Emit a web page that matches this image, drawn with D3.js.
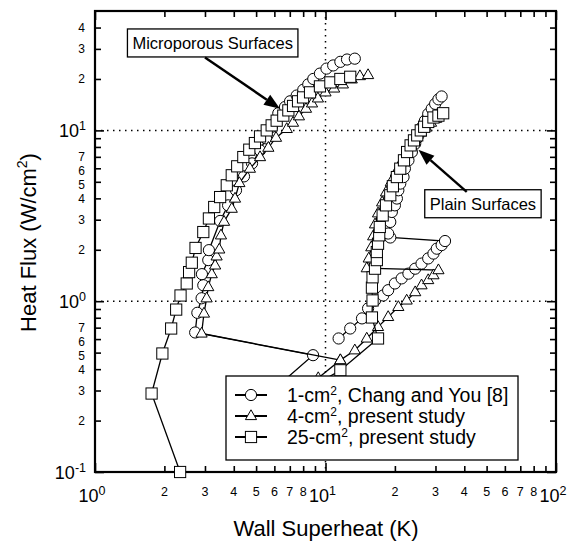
<!DOCTYPE html>
<html>
<head>
<meta charset="utf-8">
<script src="https://cdn.jsdelivr.net/npm/d3@7"></script>
<style>
  body { margin: 0; background: #fff; }
  text { font-family: "Liberation Sans", Arial, sans-serif; fill: #000; }
</style>
</head>
<body>
<div id="chart"></div>
<script>
// [wall superheat K, heat flux W/cm2]
const circleMicro = [[6.35,0.327],[8.83,0.483],[2.72,0.656],[2.78,0.855],[2.90,1.04],[2.95,1.24],[2.91,1.44],
  [3.10,1.74],[3.12,1.99],[3.49,2.95],[3.78,3.64],[4.09,4.46],[4.43,5.38],[4.80,6.41],[5.20,7.64],[5.52,8.98],
  [5.86,10.5],[6.24,12.6],[6.67,13.7],[7.02,14.8],[7.50,16.0],[8.01,17.3],[8.42,18.6],[8.85,20.0],[9.46,21.5],
  [10.1,23.0],[10.8,24.0],[11.6,25.2],[12.4,26.0],[13.4,26.3]];
const circlePlain = [[11.4,0.605],[12.8,0.692],[14.4,0.793],[15.3,0.907],[16.4,1.01],[17.8,1.08],[18.7,1.16],
  [20.0,1.27],[21.4,1.36],[22.9,1.45],[24.5,1.55],[26.1,1.66],[27.9,1.78],[29.4,1.90],[30.4,2.03],[31.9,2.13],
  [33.0,2.25],[19.1,2.36],[18.7,2.49],[19.1,2.91],[19.4,3.33],[20.0,3.64],[20.4,3.99],[20.7,4.46],[21.1,4.88],
  [21.8,5.33],[22.1,5.97],[22.9,6.68],[23.7,7.47],[24.5,8.36],[25.3,9.35],[26.1,10.4],[27.0,11.4],[27.9,12.5],
  [28.9,13.4],[29.9,14.3],[30.9,15.2],[31.9,15.8]];
const triMicro = [[9.3,0.355],[11.6,0.452],[2.90,0.647],[2.97,0.847],[3.05,1.04],[3.10,1.21],[3.21,1.44],
  [3.32,1.62],[3.37,1.83],[3.46,2.01],[3.52,2.43],[3.63,2.92],[3.92,3.48],[4.05,3.99],[4.23,4.92],[4.70,5.97],
  [5.20,6.98],[5.65,7.92],[6.10,9.06],[6.79,10.2],[7.23,11.1],[7.67,12.1],[8.23,13.4],[8.74,14.4],[9.27,15.4],
  [10.0,16.7],[10.9,17.6],[11.9,18.6],[13.0,19.9],[14.1,20.8],[15.3,21.1]];
const triPlain = [[11.6,0.452],[13.4,0.516],[15.1,0.605],[16.9,0.707],[18.7,0.809],[20.7,0.926],[22.5,1.01],
  [24.5,1.13],[26.1,1.24],[27.9,1.33],[29.4,1.42],[30.9,1.52],[15.1,1.56],[15.4,1.78],[15.8,2.07],[16.1,2.40],
  [16.4,2.82],[16.9,3.27],[17.6,3.79],[18.3,4.34],[19.2,4.97],[20.2,5.68],[21.3,6.50],[22.4,7.33],[23.5,8.17],
  [24.7,8.98],[26.0,9.73],[27.3,10.4],[28.7,11.1],[30.2,11.7]];
const squareMicro = [[2.34,0.10],[1.76,0.288],[1.96,0.494],[2.14,0.692],[2.25,0.893],[2.35,1.08],[2.50,1.27],
  [2.56,1.48],[2.63,1.68],[2.73,2.05],[2.95,2.54],[3.12,3.05],[3.29,3.56],[3.49,4.07],[3.73,4.77],[3.92,5.46],
  [4.14,6.16],[4.40,6.98],[4.67,7.71],[4.94,8.43],[5.20,9.22],[5.56,10.0],[5.84,10.7],[6.14,11.4],[6.56,12.2],
  [6.90,13.1],[7.23,13.9],[7.60,14.8],[7.99,15.6],[8.57,16.7],[9.46,18.1],[10.5,19.1],[11.6,20.0],[12.8,20.6]];
const squarePlain = [[9.46,0.336],[11.6,0.394],[16.9,0.605],[15.9,0.803],[16.0,1.01],[15.9,1.20],[16.0,1.38],
  [16.4,1.55],[16.7,1.74],[16.7,1.94],[16.9,2.17],[17.1,2.43],[17.2,2.72],[17.7,3.18],[18.3,3.64],[19.1,4.17],
  [19.6,4.71],[20.4,5.33],[21.1,5.97],[21.9,6.68],[22.6,7.47],[23.4,8.17],[24.2,8.74],[25.0,9.35],[25.9,10.0],
  [26.8,10.5],[27.9,11.2],[29.4,11.9],[30.9,12.2],[32.4,12.6]];

const legendLabels = ["1-cm", "4-cm", "25-cm"];
const legendTails = [", Chang and You [8]", ", present study", ", present study"];

const xMajor = [1, 10, 100];
const xMinor = [2,3,4,5,6,7,8,9,20,30,40,50,60,70,80,90];
const xMinorLabeled = [2,3,4,5,6,7,8,20,30,40,50,60,70,80];
const yMajor = [0.1, 1, 10];
const yMinor = [0.2,0.3,0.4,0.5,0.6,0.7,0.8,0.9,2,3,4,5,6,7,8,9,20,30,40];
const yMinorLabeled = [0.2,0.3,0.4,0.5,0.6,0.7,2,3,4,5,6,7,20,30,40];
const gridX = [10];
const gridY = [1, 10];

const width = 578, height = 544;
const margin = {top: 11, right: 22, bottom: 72, left: 95};

const svg = d3.select("#chart").append("svg")
  .attr("width", width)
  .attr("height", height)
  .attr("viewBox", [0, 0, width, height]);

const x = d3.scaleLog().domain([1, 100]).range([margin.left, width - margin.right]);
const y = d3.scaleLog().domain([0.1, 50]).range([height - margin.bottom, margin.top]);

const x0 = x.range()[0], x1 = x.range()[1];
const y0 = y.range()[0], y1 = y.range()[1];

// dotted grid lines
svg.append("g")
  .attr("stroke", "#000")
  .attr("stroke-width", 1.5)
  .attr("stroke-dasharray", "1.5,4.5")
  .call(g => g.selectAll(".gx").data(gridX).join("line")
    .attr("x1", d => x(d)).attr("x2", d => x(d)).attr("y1", y1).attr("y2", y0))
  .call(g => g.selectAll(".gy").data(gridY).join("line")
    .attr("x1", x0).attr("x2", x1).attr("y1", d => y(d)).attr("y2", d => y(d)));

// ticks (inside) on all four sides
const leadDigit = d => String(Math.round(d / Math.pow(10, Math.floor(Math.log10(d) + 1e-9))));

function ticks(axis, vals, size) {
  return axis.tickValues(vals).tickSize(-size).tickFormat("");
}
const tickGroups = [
  [() => d3.axisBottom(x), `translate(0,${y0})`, true],
  [() => d3.axisTop(x), `translate(0,${y1})`, true],
  [() => d3.axisLeft(y), `translate(${x0},0)`, false],
  [() => d3.axisRight(y), `translate(${x1},0)`, false]
];
tickGroups.forEach(([mk, tr, isX]) => {
  const major = isX ? xMajor : yMajor;
  const minor = isX ? xMinor : yMinor;
  [[minor, 6], [major, 9]].forEach(([vals, len]) => {
    svg.append("g").attr("transform", tr)
      .call(ticks(mk(), vals, len))
      .call(g => g.select(".domain").remove())
      .call(g => g.selectAll("line").attr("stroke-width", 1.6));
  });
});

// frame
svg.append("rect")
  .attr("x", x0).attr("y", y1)
  .attr("width", x1 - x0).attr("height", y0 - y1)
  .attr("fill", "none").attr("stroke", "#000").attr("stroke-width", 2.2);

// x tick labels
svg.append("g").selectAll("text").data(xMinorLabeled).join("text")
  .attr("x", d => x(d)).attr("y", y0 + 24)
  .attr("text-anchor", "middle").attr("font-size", 12.5)
  .text(leadDigit);
svg.append("g").selectAll("text").data(xMajor).join("text")
  .attr("x", d => x(d) - 3).attr("y", y0 + 30)
  .attr("text-anchor", "middle").attr("font-size", 18)
  .call(t => t.append("tspan").text("10"))
  .call(t => t.append("tspan").attr("font-size", 12.5).attr("dy", -7).text(d => Math.round(Math.log10(d))));

// y tick labels (the crowded 6 and 5 sit a little lower, as in the original)
const yNudge = d => (leadDigit(d) === "6" || leadDigit(d) === "5") ? 2.5 : 0;
svg.append("g").selectAll("text").data(yMinorLabeled).join("text")
  .attr("x", x0 - 10).attr("y", d => y(d) + 4.5 + yNudge(d))
  .attr("text-anchor", "end").attr("font-size", 12)
  .text(leadDigit);
svg.append("g").selectAll("text").data(yMajor).join("text")
  .attr("x", x0 - 9).attr("y", d => y(d) + 7)
  .attr("text-anchor", "end").attr("font-size", 18)
  .call(t => t.append("tspan").text("10"))
  .call(t => t.append("tspan").attr("font-size", 12.5).attr("dy", -7).text(d => Math.round(Math.log10(d))));

// axis titles
svg.append("text")
  .attr("x", 326).attr("y", 536)
  .attr("text-anchor", "middle").attr("font-size", 22)
  .text("Wall Superheat (K)");
svg.append("text")
  .attr("transform", `translate(36,${(y0 + y1) / 2 + 1}) rotate(-90)`)
  .attr("text-anchor", "middle").attr("font-size", 22)
  .call(t => t.append("tspan").text("Heat Flux (W/cm"))
  .call(t => t.append("tspan").attr("font-size", 14).attr("dy", -9).text("2"))
  .call(t => t.append("tspan").attr("dy", 9).text(")"));

// markers
const shapes = {
  circle: g => g.append("circle").attr("r", 5.6),
  triangle: g => g.append("path").attr("d", "M0,-6.2L5.6,3.6L-5.6,3.6Z"),
  square: g => g.append("rect").attr("x", -5.6).attr("y", -5.6).attr("width", 11.2).attr("height", 11.2)
};

const line = d3.line().x(d => x(d[0])).y(d => y(d[1]));

function drawSeries(data, shape) {
  const g = svg.append("g");
  g.append("path").datum(data)
    .attr("d", line)
    .attr("fill", "none").attr("stroke", "#000").attr("stroke-width", 1.3);
  g.selectAll("g").data(data).join("g")
    .attr("transform", d => `translate(${x(d[0])},${y(d[1])})`)
    .each(function() { shapes[shape](d3.select(this)); })
    .selectAll("*")
    .attr("fill", "#fff").attr("stroke", "#000").attr("stroke-width", 1);
}

drawSeries(circleMicro, "circle");
drawSeries(circlePlain, "circle");
drawSeries(triMicro, "triangle");
drawSeries(triPlain, "triangle");
drawSeries(squareMicro, "square");
drawSeries(squarePlain, "square");

// annotations
function annotate(label, center, tail, tip) {
  const cx = x(center[0]), cy = y(center[1]);
  const g = svg.append("g");
  const t = g.append("text").attr("x", cx).attr("y", cy + 6)
    .attr("text-anchor", "middle").attr("font-size", 16.5).text(label);
  const bb = t.node().getBBox();
  g.insert("rect", "text")
    .attr("x", bb.x - 5).attr("y", cy - 14).attr("width", bb.width + 10).attr("height", 28)
    .attr("fill", "#fff").attr("stroke", "#000").attr("stroke-width", 1.3);
  const ax = x(tail[0]), ay = y(tail[1]), bx = x(tip[0]), by = y(tip[1]);
  const ang = Math.atan2(by - ay, bx - ax);
  const hl = 16, hw = 6;
  const ex = bx - hl * Math.cos(ang), ey = by - hl * Math.sin(ang);
  g.append("line").attr("x1", ax).attr("y1", ay).attr("x2", ex).attr("y2", ey)
    .attr("stroke", "#000").attr("stroke-width", 2.4);
  g.append("path")
    .attr("d", `M${bx},${by}L${ex + hw * Math.sin(ang)},${ey - hw * Math.cos(ang)}L${ex - hw * Math.sin(ang)},${ey + hw * Math.cos(ang)}Z`)
    .attr("fill", "#000");
}
annotate("Microporous Surfaces", [3.24, 32.5], [3.0, 26.7], [6.35, 13.4]);
annotate("Plain Surfaces", [48.2, 3.72], [41.0, 4.36], [25.3, 7.71]);

// legend
const legend = svg.append("g").attr("transform", "translate(226,376)");
legend.append("rect").attr("width", 292).attr("height", 84)
  .attr("fill", "#fff").attr("stroke", "#000").attr("stroke-width", 1.3);
const legShapes = ["circle", "triangle", "square"];
legShapes.forEach((s, i) => {
  const row = legend.append("g").attr("transform", `translate(0,${19 + i * 21})`);
  row.append("line").attr("x1", 9).attr("x2", 41).attr("stroke", "#000").attr("stroke-width", 2);
  const m = row.append("g").attr("transform", "translate(25,0)");
  shapes[s](m);
  m.selectAll("*").attr("fill", "#fff").attr("stroke", "#000").attr("stroke-width", 1);
  row.append("text").attr("x", 61).attr("y", 7).attr("font-size", 19.5)
    .call(t => t.append("tspan").text(legendLabels[i]))
    .call(t => t.append("tspan").attr("font-size", 12).attr("dy", -7).text("2"))
    .call(t => t.append("tspan").attr("dy", 7).text(legendTails[i]));
});
</script>
</body>
</html>
